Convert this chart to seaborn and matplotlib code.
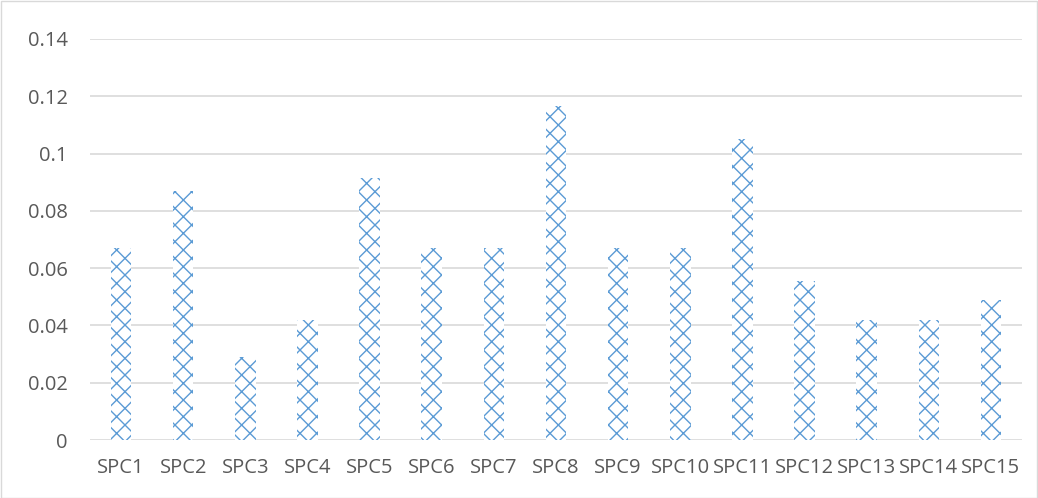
import matplotlib
matplotlib.use("Agg")
import matplotlib.pyplot as plt
import seaborn as sns
import pandas as pd
from matplotlib.patches import Rectangle

# values
categories = ["SPC%d" % i for i in range(1, 16)]
values = [0.067, 0.087, 0.029, 0.042, 0.0915, 0.067, 0.067, 0.1165,
          0.067, 0.067, 0.105, 0.0555, 0.042, 0.042, 0.049]
yticks = [0, 0.02, 0.04, 0.06, 0.08, 0.1, 0.12, 0.14]
yticklabels = ["0", "0.02", "0.04", "0.06", "0.08", "0.1", "0.12", "0.14"]

df = pd.DataFrame({"cat": categories, "val": values})

sns.set_style("white")
plt.rcParams["font.family"] = ["Open Sans", "DejaVu Sans"]
plt.rcParams["hatch.linewidth"] = 1.0

blue = "#5B9BD5"
grid = "#D9D9D9"
txt = "#595959"

fig = plt.figure(figsize=(10.38, 4.98), dpi=100)
ax = fig.add_axes([90 / 1038, 58 / 498, 932 / 1038, 401 / 498])

sns.barplot(data=df, x="cat", y="val", color="white", width=0.33,
            edgecolor=blue, linewidth=0, hatch="xx", ax=ax)

ax.set_ylim(0, 0.14)
ax.set_xlim(-0.5, len(categories) - 0.5)
ax.set_yticks(yticks)
ax.set_yticklabels(yticklabels)
ax.yaxis.grid(True, color=grid, linewidth=1.2)
ax.set_axisbelow(True)
for s in ax.spines.values():
    s.set_visible(False)
ax.tick_params(axis="both", length=0, labelsize=14.5, labelcolor=txt)
ax.tick_params(axis="y", pad=16)
ax.tick_params(axis="x", pad=13)
ax.set_xlabel("")
ax.set_ylabel("")

# outer chart border
fig.patches.append(Rectangle((0.5 / 1038, 0.5 / 498), 1036 / 1038, 496 / 498,
                             transform=fig.transFigure, fill=False,
                             edgecolor=grid, linewidth=1))

fig.savefig("out.png", dpi=100)
